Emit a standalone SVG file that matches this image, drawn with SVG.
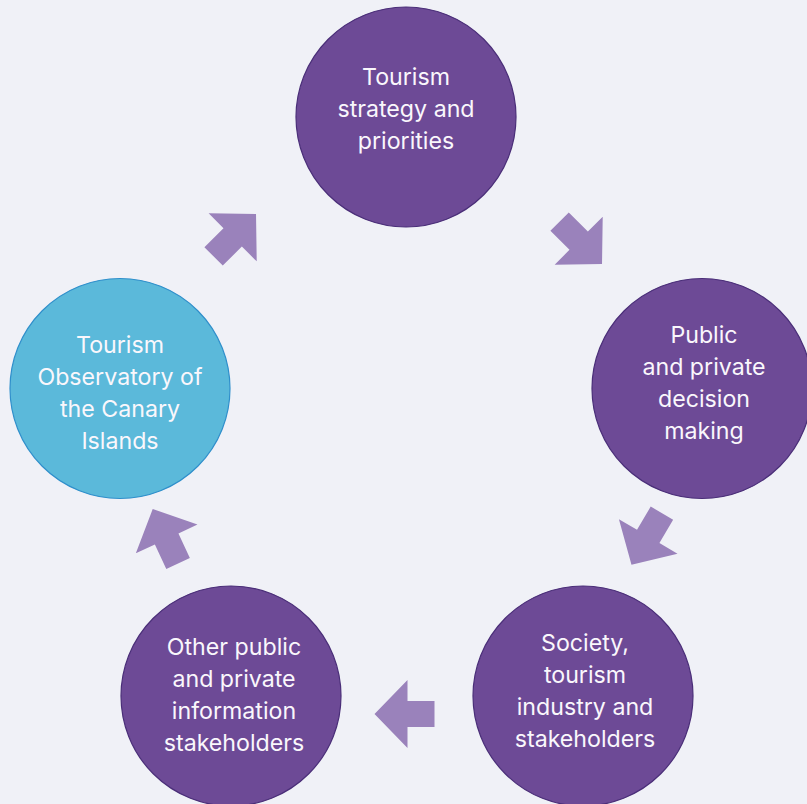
<svg xmlns="http://www.w3.org/2000/svg" width="807" height="804" viewBox="0 0 807 804">
  <style>
    .bg { fill: #F0F1F7; }
    .node-p { fill: #6D4A96; stroke: #4A2E78; stroke-width: 1.2; }
    .node-b { fill: #5BB9DA; stroke: #2F8FCB; stroke-width: 1.2; }
    .label { font-family: Inter, "Noto Sans", "Liberation Sans", sans-serif; font-size: 23.2px; fill: #FAF7FC; text-anchor: middle; }
    .arrow { fill: #9A82BB; }
  </style>
  <defs>
    <!-- block arrow pointing along +x, centred on the origin -->
    <path id="blockArrow" d="M30,0 L-3,-34 L-3,-13 L-30,-13 L-30,13 L-3,13 L-3,34 Z"/>
  </defs>
  <rect class="bg" x="0" y="0" width="807" height="804"/>

  <g id="node-strategy">
    <circle class="node-p" cx="406" cy="117" r="110"/>
    <text class="label"><tspan x="406" y="85">Tourism</tspan><tspan x="406" y="117">strategy and</tspan><tspan x="406" y="149">priorities</tspan></text>
  </g>

  <g id="node-decision">
    <circle class="node-p" cx="702" cy="388.5" r="110"/>
    <text class="label"><tspan x="704" y="343">Public</tspan><tspan x="704" y="375">and private</tspan><tspan x="704" y="407">decision</tspan><tspan x="704" y="439">making</tspan></text>
  </g>

  <g id="node-society">
    <circle class="node-p" cx="583" cy="696" r="110"/>
    <text class="label"><tspan x="585" y="651">Society,</tspan><tspan x="585" y="683">tourism</tspan><tspan x="585" y="715">industry and</tspan><tspan x="585" y="747">stakeholders</tspan></text>
  </g>

  <g id="node-other">
    <circle class="node-p" cx="231" cy="696" r="110"/>
    <text class="label"><tspan x="234" y="655">Other public</tspan><tspan x="234" y="687">and private</tspan><tspan x="234" y="719">information</tspan><tspan x="234" y="751">stakeholders</tspan></text>
  </g>

  <g id="node-observatory">
    <circle class="node-b" cx="120" cy="388.5" r="110"/>
    <text class="label"><tspan x="120" y="353">Tourism</tspan><tspan x="120" y="385">Observatory of</tspan><tspan x="120" y="417">the Canary</tspan><tspan x="120" y="449">Islands</tspan></text>
  </g>

  <g id="connectors">
    <use href="#blockArrow" class="arrow" transform="translate(580.8,242.8) rotate(45)"/>
    <use href="#blockArrow" class="arrow" transform="translate(646.7,539) rotate(120.5)"/>
    <use href="#blockArrow" class="arrow" transform="translate(404.5,714) rotate(180)"/>
    <use href="#blockArrow" class="arrow" transform="translate(165.4,536.2) rotate(-115)"/>
    <use href="#blockArrow" class="arrow" transform="translate(234.8,235.2) rotate(-45)"/>
  </g>
</svg>
